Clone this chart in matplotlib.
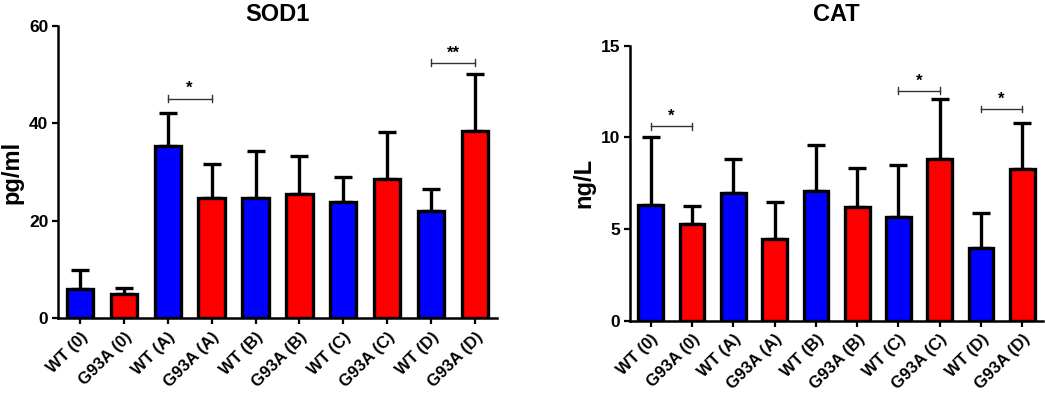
import numpy as np
import matplotlib
matplotlib.use('Agg')
import matplotlib.pyplot as plt

plt.rcParams['font.family'] = ['Liberation Sans', 'DejaVu Sans']
plt.rcParams['font.weight'] = 'bold'

labels = ['WT (0)', 'G93A (0)', 'WT (A)', 'G93A (A)', 'WT (B)',
          'G93A (B)', 'WT (C)', 'G93A (C)', 'WT (D)', 'G93A (D)']
bar_colors = ['#0000FF', '#FF0000'] * 5

sod1_mean = [5.9, 5.0, 35.4, 24.6, 24.6, 25.5, 23.8, 28.5, 21.9, 38.5]
sod1_sd = [4.0, 1.2, 6.8, 7.1, 9.7, 7.8, 5.1, 9.7, 4.7, 11.6]
# (left index, right index, bracket height, label)
sod1_sig = [(2, 3, 45.1, '*'), (8, 9, 52.4, '**')]

cat_mean = [6.33, 5.29, 6.95, 4.44, 7.07, 6.18, 5.67, 8.80, 3.96, 8.25]
cat_sd = [3.67, 0.95, 1.87, 2.01, 2.49, 2.13, 2.80, 3.27, 1.93, 2.55]
cat_sig = [(0, 1, 10.6, '*'), (6, 7, 12.55, '*'), (8, 9, 11.55, '*')]


def draw_panel(ax, mean, sd, sig, title, ylabel, ymax, yticks, title_pad):
    x = np.arange(len(labels))
    mean = np.array(mean)
    sd = np.array(sd)
    ax.errorbar(x, mean, yerr=[np.zeros_like(sd), sd], fmt='none',
                ecolor='black', elinewidth=2.4, capsize=6.5, capthick=2.4,
                zorder=2)
    ax.bar(x, mean, width=0.6, color=bar_colors, edgecolor='black',
           linewidth=2.4, zorder=3)
    ax.set_xlim(-0.5, len(labels) - 0.5)
    ax.set_ylim(0, ymax)
    ax.set_yticks(yticks)
    ax.set_xticks(x)
    ax.set_xticklabels(labels, rotation=45, ha='right', va='top',
                       rotation_mode='anchor', fontsize=12,
                       fontweight='bold')
    for lab in ax.get_yticklabels():
        lab.set_fontsize(12.5)
        lab.set_fontweight('bold')
    ax.tick_params(axis='both', direction='out', length=4, width=1.6,
                   pad=3)
    ax.tick_params(axis='x', pad=4)
    for side in ['top', 'right']:
        ax.spines[side].set_visible(False)
    for side in ['left', 'bottom']:
        ax.spines[side].set_linewidth(1.8)
    ax.set_title(title, fontsize=17, fontweight='bold', pad=title_pad)
    ax.set_ylabel(ylabel, fontsize=17, fontweight='bold', labelpad=4)

    tick_h = ymax * 0.012
    for i, j, h, txt in sig:
        ax.plot([i, j], [h, h], color='#333333', lw=1.0, zorder=4)
        for k in (i, j):
            ax.plot([k, k], [h - tick_h, h + tick_h], color='#333333',
                    lw=1.0, zorder=4)
        ax.text((i + j) / 2, h + ymax * 0.008, txt, ha='center',
                va='bottom', fontsize=12, fontweight='bold')


fig = plt.figure(figsize=(10.45, 3.94), dpi=100)
ax1 = fig.add_axes([0.0555, 0.193, 0.42, 0.741])
ax2 = fig.add_axes([0.603, 0.186, 0.395, 0.698])

draw_panel(ax1, sod1_mean, sod1_sd, sod1_sig, 'SOD1', 'pg/ml', 60,
           [0, 20, 40, 60], 2)
draw_panel(ax2, cat_mean, cat_sd, cat_sig, 'CAT', 'ng/L', 15,
           [0, 5, 10, 15], 18)

fig.savefig('out.png', dpi=100)
